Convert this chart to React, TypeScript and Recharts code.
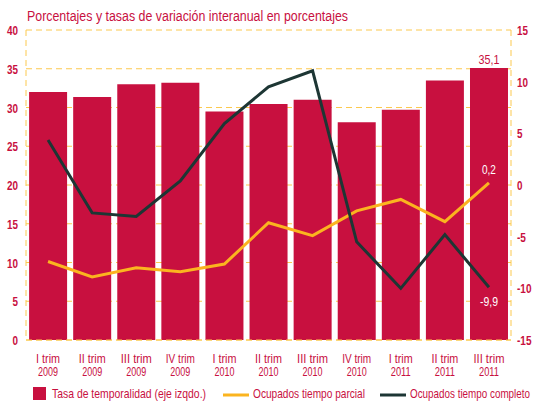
import { Bar, CartesianGrid, ComposedChart, LabelList, Line, XAxis, YAxis } from "recharts";

const quarters = ["I trim", "II trim", "III trim", "IV trim", "I trim", "II trim", "III trim", "IV trim", "I trim", "II trim", "III trim"];
const years = ["2009", "2009", "2009", "2009", "2010", "2010", "2010", "2010", "2011", "2011", "2011"];
const temporalidad = [32.0, 31.35, 33.0, 33.2, 29.5, 30.45, 31.0, 28.1, 29.7, 33.5, 35.1];
const parcial = [-7.4, -8.9, -8.0, -8.4, -7.65, -3.65, -4.9, -2.5, -1.4, -3.55, 0.2];
const completo = [4.35, -2.7, -3.05, 0.4, 5.95, 9.5, 11.05, -5.5, -10.0, -4.8, -9.9];
const leftTicks = [0, 5, 10, 15, 20, 25, 30, 35, 40];
const rightTicks = [-15, -10, -5, 0, 5, 10, 15];

const data = quarters.map((q, i) => ({
  name: q + " " + years[i],
  temporalidad: temporalidad[i],
  parcial: parcial[i],
  completo: completo[i],
}));

const RED = "#c8103f";
const YELLOW = "#fbb41f";
const DARK = "#1d3634";
const GRID = "#fcc94f";
const FONT = "'Liberation Sans', Arial, sans-serif";
const SX = 0.8; // horizontal squeeze, the original uses a condensed face

// rough widths of the narrow typeface in the original
const qWidth: Record<string, number> = { "I trim": 24, "II trim": 27, "III trim": 31, "IV trim": 29 };
const numWidth = (s: string) => s.replace("-", "").length * 5.5 + (s.startsWith("-") ? 3.5 : 0);
const fmt = (v: number) => String(v).replace(".", ",");

// squeezed text: x,y in page coords, w = wanted width on screen
const NText = ({ x, y, w, anchor = "start", size = 13, bold = false, fill = RED, children }: any) => (
  <text
    transform={`translate(${x},${y}) scale(${SX},1)`}
    x={0}
    y={0}
    textAnchor={anchor}
    fill={fill}
    fontSize={size}
    fontWeight={bold ? "bold" : "normal"}
    fontFamily={FONT}
    textLength={w / SX}
    lengthAdjust="spacingAndGlyphs"
  >
    {children}
  </text>
);

const XTick = (props: any) => {
  const { x, y, index } = props;
  const q = quarters[index];
  return (
    <g>
      <NText x={x} y={y + 15} w={qWidth[q]} anchor="middle" size={12}>{q}</NText>
      <NText x={x} y={y + 28} w={20} anchor="middle" size={12}>{years[index]}</NText>
    </g>
  );
};

const LeftTick = (props: any) => {
  const { x, y, payload } = props;
  const s = String(payload.value);
  return <NText x={x} y={y + 5} w={numWidth(s)} anchor="end" size={13} bold>{s}</NText>;
};

const RightTick = (props: any) => {
  const { x, y, payload } = props;
  const s = String(payload.value);
  return <NText x={x - 2} y={y + 5} w={numWidth(s)} anchor="start" size={12} bold>{s}</NText>;
};

const lastLabel = (color: string, dy: number, w: number) => (props: any) => {
  const { x, y, width, index, value } = props;
  if (index !== data.length - 1) return null;
  const cx = width ? x + width / 2 : x;
  return <NText x={cx} y={y + dy} w={w} anchor="middle" size={12} fill={color}>{fmt(value)}</NText>;
};

export default function App() {
  return (
    <div style={{ position: "absolute", left: 0, top: 0, width: 534, height: 401, background: "#fff" }}>
      <ComposedChart width={534} height={401} data={data} margin={{ top: 30, right: 0, left: 0, bottom: 0 }} barCategoryGap="7%">
        <CartesianGrid vertical={false} stroke={GRID} strokeDasharray="6 4" yAxisId="left" />
        <XAxis dataKey="name" tick={<XTick />} interval={0} height={61} axisLine={{ stroke: GRID, strokeDasharray: "6 4" }} tickLine={false} />
        <YAxis yAxisId="left" domain={[0, 40]} ticks={leftTicks} width={26} tick={<LeftTick />} axisLine={{ stroke: GRID, strokeDasharray: "6 4" }} tickLine={false} />
        <YAxis yAxisId="right" orientation="right" domain={[-15, 15]} ticks={rightTicks} width={23} tick={<RightTick />} axisLine={{ stroke: GRID, strokeDasharray: "6 4" }} tickLine={false} />
        <Bar yAxisId="left" dataKey="temporalidad" fill={RED} isAnimationActive={false}>
          <LabelList dataKey="temporalidad" content={lastLabel(RED, -4, 21)} />
        </Bar>
        <Line yAxisId="right" dataKey="parcial" stroke={YELLOW} strokeWidth={3} dot={false} isAnimationActive={false}>
          <LabelList dataKey="parcial" content={lastLabel("#fff", -9, 14)} />
        </Line>
        <Line yAxisId="right" dataKey="completo" stroke={DARK} strokeWidth={3} dot={false} isAnimationActive={false}>
          <LabelList dataKey="completo" content={lastLabel("#fff", 19, 18)} />
        </Line>
      </ComposedChart>
      <svg width={534} height={401} style={{ position: "absolute", left: 0, top: 0, pointerEvents: "none" }}>
        <NText x={27} y={21} w={321} size={15}>Porcentajes y tasas de variación interanual en porcentajes</NText>
        <rect x={33} y={387} width={13} height={13} fill={RED} />
        <NText x={52} y={398} w={154} size={12}>Tasa de temporalidad (eje izqdo.)</NText>
        <line x1={223} x2={249} y1={395} y2={395} stroke={YELLOW} strokeWidth={3} />
        <NText x={253} y={398} w={112} size={12}>Ocupados tiempo parcial</NText>
        <line x1={380} x2={406} y1={395} y2={395} stroke={DARK} strokeWidth={3} />
        <NText x={410} y={398} w={120} size={12}>Ocupados tiempo completo</NText>
      </svg>
    </div>
  );
}
